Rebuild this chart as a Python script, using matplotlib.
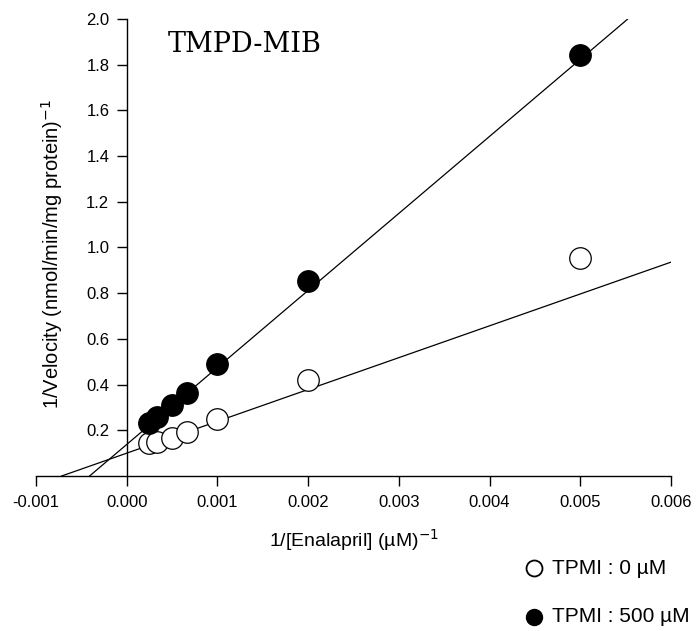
import numpy as np
import matplotlib
matplotlib.use("Agg")
import matplotlib.pyplot as plt

plt.rcParams['font.family'] = ['Liberation Sans', 'DejaVu Sans']

# 1/[Enalapril] (uM^-1)
inv_s = [0.00025, 0.000333, 0.0005, 0.000667, 0.001, 0.002, 0.005]
# 1/velocity
v_0 = [0.146, 0.150, 0.165, 0.194, 0.248, 0.420, 0.954]
v_500 = [0.232, 0.258, 0.312, 0.365, 0.490, 0.853, 1.842]

# fitted lines (slope, intercept) and x-range drawn
fit_0 = (139.3, 0.100)
fit_500 = (337.0, 0.138)
xr_0 = (-0.00072, 0.006)
xr_500 = (-0.00041, 0.00552)

xticks = [-0.001, 0.0, 0.001, 0.002, 0.003, 0.004, 0.005, 0.006]
yticks = [0.2, 0.4, 0.6, 0.8, 1.0, 1.2, 1.4, 1.6, 1.8, 2.0]

fig = plt.figure(figsize=(6.96, 6.31), dpi=100)
ax = fig.add_axes([0.0517, 0.2456, 0.9123, 0.7244])

for (m, b), (x0, x1) in [(fit_0, xr_0), (fit_500, xr_500)]:
    xx = np.array([x0, x1])
    ax.plot(xx, m * xx + b, color='black', lw=0.9, zorder=2)

ax.plot(inv_s, v_0, 'o', ms=15.5, mfc='white', mec='black', mew=0.9, zorder=3)
ax.plot(inv_s, v_500, 'o', ms=15.5, mfc='black', mec='black', mew=0.9, zorder=3)

ax.set_xlim(-0.001, 0.006)
ax.set_ylim(0, 2.0)
ax.spines['top'].set_visible(False)
ax.spines['right'].set_visible(False)
ax.spines['left'].set_position(('data', 0))
ax.spines['left'].set_bounds(0, 2.0)
ax.set_xticks(xticks)
ax.set_xticklabels(['%.3f' % t for t in xticks])
ax.set_yticks(yticks)
ax.set_yticklabels(['%.1f' % t for t in yticks])
ax.tick_params(direction='out', length=7, width=1, labelsize=12)
ax.tick_params(axis='x', pad=7)
ax.tick_params(axis='y', pad=5.5)
for s in ax.spines.values():
    s.set_linewidth(1)

ax.set_xlabel('1/[Enalapril] (µM)$^{-1}$', fontsize=14)
ax.set_ylabel('1/Velocity (nmol/min/mg protein)$^{-1}$', fontsize=14.5)
ax.xaxis.set_label_coords(0.5, -0.112)
ax.yaxis.set_label_coords(0.045, 0.485)

ax.text(0.207, 0.945, 'TMPD-MIB', transform=ax.transAxes, fontsize=19.5,
        family='DejaVu Serif', va='center', ha='left')

# legend below the plot
ax.plot([0.767], [0.0998], 'o', ms=11.5, mfc='white', mec='black', mew=1.3,
        transform=fig.transFigure, clip_on=False)
fig.text(0.793, 0.0998, 'TPMI : 0 µM', fontsize=15, va='center', ha='left')
ax.plot([0.767], [0.0222], 'o', ms=11.5, mfc='black', mec='black',
        transform=fig.transFigure, clip_on=False)
fig.text(0.793, 0.0222, 'TPMI : 500 µM', fontsize=15, va='center', ha='left')

fig.savefig('out.png', dpi=100)
